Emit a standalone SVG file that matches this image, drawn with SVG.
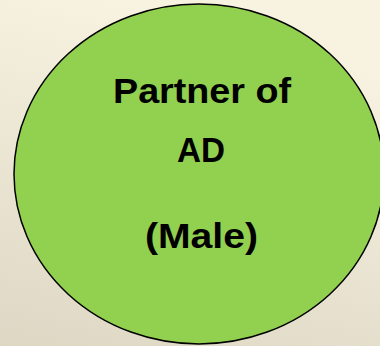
<svg xmlns="http://www.w3.org/2000/svg" width="380" height="346" viewBox="0 0 380 346">
  <defs>
    <linearGradient id="bg" x1="0.3" y1="0" x2="0" y2="1">
      <stop offset="0" stop-color="#f8f3e1"/>
      <stop offset="1" stop-color="#ddd7c4"/>
    </linearGradient>
    <style>
      .lbl { font-family: "Liberation Sans", Arial, sans-serif; font-weight: bold; font-size: 35px; fill: #000; text-anchor: middle; }
      .node { fill: #92d050; stroke: #000; stroke-width: 1.5; }
    </style>
  </defs>
  <rect x="0" y="0" width="380" height="346" fill="url(#bg)"/>
  <g id="partner">
    <ellipse class="node" cx="199" cy="174" rx="185" ry="170"/>
    <text class="lbl" x="202" y="103" textLength="178" lengthAdjust="spacingAndGlyphs">Partner of</text>
    <text class="lbl" x="201" y="162" textLength="48" lengthAdjust="spacingAndGlyphs">AD</text>
    <text class="lbl" x="201.5" y="248" textLength="113" lengthAdjust="spacingAndGlyphs">(Male)</text>
  </g>
  <g id="connectors"/>
</svg>
